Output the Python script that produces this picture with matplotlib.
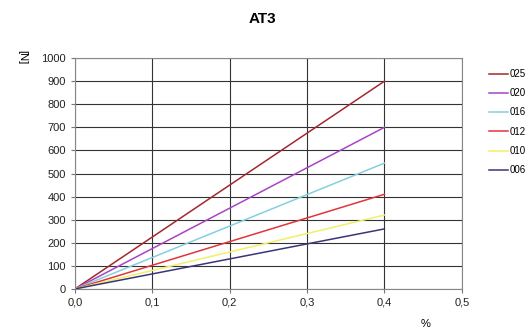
import matplotlib
matplotlib.use('Agg')
import matplotlib.pyplot as plt
from matplotlib.lines import Line2D

plt.rcParams['font.family'] = ['Liberation Sans', 'DejaVu Sans']

# Daten
dehnung = [0.0, 0.4]
serien = ['025', '020', '016', '012', '010', '006']
endwerte = [900, 700, 545, 410, 320, 260]
farben = ['#a3282e', '#a745c4', '#84cfe0', '#e0353a', '#f2ef6a', '#3a3577']

x_ticks = [0.0, 0.1, 0.2, 0.3, 0.4, 0.5]
x_labels = ['0,0', '0,1', '0,2', '0,3', '0,4', '0,5']
y_ticks = list(range(0, 1001, 100))

fig = plt.figure(figsize=(5.32, 3.34), dpi=100)
ax = fig.add_axes([0.141, 0.135, 0.727, 0.691])

for name, wert, farbe in zip(serien, endwerte, farben):
    ax.plot(dehnung, [0, wert], color=farbe, linewidth=1.1)

ax.set_xlim(0, 0.5)
ax.set_ylim(0, 1000)
ax.set_xticks(x_ticks)
ax.set_xticklabels(x_labels)
ax.set_yticks(y_ticks)
ax.tick_params(labelsize=8, length=3, color='#777777', colors='#222222')
ax.grid(True, color='#333333', linewidth=0.8)
for s in ax.spines.values():
    s.set_color('#888888')

fig.text(0.493, 0.942, 'AT3', ha='center', va='center', fontsize=11, fontweight='bold')
fig.text(0.042, 0.83, '[N]', ha='center', va='center', fontsize=8, rotation=270)
fig.text(0.8, 0.03, '%', ha='center', va='center', fontsize=8)

# Legende am rechten Rand
handles = [Line2D([], [], color=f, linewidth=1.1) for f in farben]
fig.legend(handles, serien, loc='upper left', bbox_to_anchor=(0.912, 0.805),
           frameon=False, fontsize=7, handlelength=1.9, handletextpad=0.25,
           labelspacing=0.95, borderaxespad=0)

fig.savefig('out.png', dpi=100)
